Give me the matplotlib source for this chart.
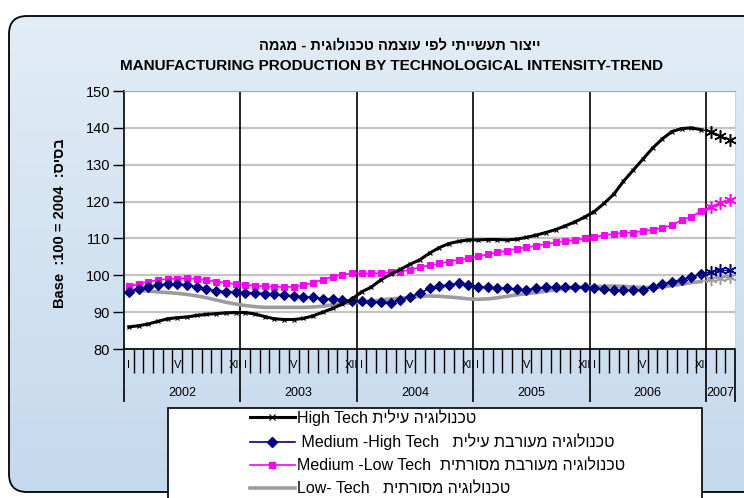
import numpy as np
import matplotlib
matplotlib.use("Agg")
import matplotlib.pyplot as plt
from matplotlib.patches import FancyBboxPatch, Rectangle
from matplotlib.lines import Line2D
import matplotlib.transforms as mtransforms

# monthly trend values, Jan 2002 .. Mar 2007
high_tech = [86.0, 86.3, 86.8, 87.5, 88.2, 88.5, 88.7, 89.1, 89.4, 89.6, 89.8, 89.9,
             89.9, 89.5, 88.8, 88.2, 88.0, 88.0, 88.3, 89.0, 90.0, 91.0, 92.2, 93.5,
             95.5, 96.8, 98.8, 100.3, 101.6, 103.0, 104.2, 106.0, 107.5, 108.6, 109.2, 109.6,
             109.6, 109.7, 109.7, 109.6, 109.8, 110.3, 110.9, 111.6, 112.4, 113.4, 114.5, 115.8,
             117.3, 119.5, 122.0, 125.5, 128.5, 131.5, 134.5, 137.0, 139.0, 139.8, 140.0, 139.5,
             139.0, 137.8, 136.7]
med_high = [95.6, 96.2, 96.9, 97.4, 97.6, 97.6, 97.4, 96.8, 96.2, 95.8, 95.6, 95.4,
            95.3, 95.2, 95.0, 94.8, 94.6, 94.4, 94.2, 94.0, 93.7, 93.5, 93.3, 93.1,
            92.9, 92.8, 92.8, 92.6, 93.3, 94.2, 95.1, 96.5, 97.1, 97.4, 97.8, 97.4,
            96.9, 96.7, 96.5, 96.5, 96.2, 96.0, 96.5, 96.7, 96.7, 96.9, 96.9, 96.9,
            96.5, 96.3, 96.0, 96.0, 96.0, 96.0, 96.9, 97.6, 98.3, 98.7, 99.6, 100.3,
            100.9, 101.3, 101.3]
med_low = [97.1, 97.6, 98.3, 98.7, 99.0, 99.1, 99.2, 99.0, 98.7, 98.3, 98.0, 97.6,
           97.4, 97.2, 97.0, 96.9, 96.8, 96.9, 97.3, 98.0, 98.8, 99.6, 100.2, 100.5,
           100.5, 100.5, 100.6, 100.8, 101.0, 101.5, 102.2, 102.7, 103.2, 103.7, 104.2, 104.6,
           105.1, 105.7, 106.2, 106.7, 107.2, 107.6, 108.0, 108.5, 108.9, 109.3, 109.6, 110.0,
           110.4, 110.9, 111.2, 111.5, 111.6, 112.0, 112.3, 112.9, 113.6, 115.0, 115.9, 117.4,
           118.6, 119.7, 120.4]
low_tech = [96.0, 95.9, 95.7, 95.5, 95.3, 95.1, 94.8, 94.4, 93.9, 93.3, 92.7, 92.2,
            91.8, 91.5, 91.3, 91.3, 91.3, 91.3, 91.3, 91.4, 91.6, 92.0, 92.3, 92.5,
            92.7, 93.0, 93.3, 93.6, 93.8, 94.0, 94.3, 94.4, 94.3, 94.1, 93.9, 93.6,
            93.5, 93.6, 93.9, 94.3, 94.7, 95.0, 95.3, 95.7, 96.0, 96.4, 96.6, 96.8,
            96.9, 97.0, 97.1, 97.0, 96.8, 96.7, 96.7, 96.8, 97.2, 97.6, 98.0, 98.3,
            98.9, 99.3, 99.5]
years = ["2002", "2003", "2004", "2005", "2006", "2007"]
months_in_year = [12, 12, 12, 12, 12, 3]
month_labels = {0: "I", 5: "V", 11: "XII"}

title_he = "ייצור תעשייתי לפי עוצמה טכנולוגית - מגמה"
title_en = "MANUFACTURING PRODUCTION BY TECHNOLOGICAL INTENSITY-TREND"
labels_en = ["High Tech ", " Medium -High Tech   ", "Medium -Low Tech  ", "Low- Tech   "]
labels_he = ["טכנולוגיה עילית", "טכנולוגיה מעורבת עילית",
             "טכנולוגיה מעורבת מסורתית", "טכנולוגיה מסורתית"]


def vis(s):
    # matplotlib has no bidi: reverse hebrew to visual order
    return s[::-1]


plt.rcParams['font.family'] = ['Liberation Sans', 'DejaVu Sans']

W, H = 744, 498
fig = plt.figure(figsize=(W / 100, H / 100), dpi=100)
fig.patch.set_facecolor('white')

# chart area background with rounded border
bg = fig.add_axes([0, 0, 1, 1])
bg.set_xlim(0, W)
bg.set_ylim(H, 0)
bg.axis('off')
grad = np.linspace(0, 1, 256).reshape(-1, 1)
top_c = np.array([0.89, 0.93, 0.965])
bot_c = np.array([0.77, 0.85, 0.93])
img = top_c + grad[..., None] * (bot_c - top_c)
img = np.repeat(img, 2, axis=1)
im = bg.imshow(img, extent=[0, W, H, 0], aspect='auto')
frame = FancyBboxPatch((9, 16), 790, 476, boxstyle="round,pad=0,rounding_size=18",
                       facecolor='none', edgecolor='black', lw=1.3)
bg.add_patch(frame)
im.set_clip_path(frame)

fig.text(400 / W, 1 - 45 / H, vis(title_he), ha='center', va='center',
         fontsize=10.5, fontweight='bold')
fig.text(392 / W, 1 - 66 / H, title_en, ha='center', va='center',
         fontsize=11, fontweight='bold')
fig.text(60 / W, 1 - 223 / H, "Base  :100 = 2004  :" + vis("בסיס"), rotation=90,
         ha='center', va='center', fontsize=10.5, fontweight='bold')

# plot area
ax = fig.add_axes([124 / W, 1 - 349 / H, 611 / W, 258 / H])
ax.set_facecolor('white')
x = np.arange(len(high_tech))
n_main = 60  # points up to Dec 2006

series = [
    (low_tech, '#9c9c9c', None, 0, 2.6),
    (med_low, '#ff00ff', 's', 4.2, 1.2),
    (med_high, '#000080', 'D', 5.5, 1.2),
    (high_tech, 'black', 'x', 3.5, 2.2),
]
for vals, col, mk, ms, lw in series:
    v = np.array(vals)
    ax.plot(x[:n_main], v[:n_main], color=col, lw=lw, marker=mk, ms=ms,
            mew=0.8, zorder=3)
    ax.plot(x[n_main - 1:], v[n_main - 1:], color=col, lw=1, zorder=3)
    ax.plot(x[n_main:], v[n_main:], ls='none', marker=(6, 2, 0), ms=9,
            mec=col, mew=1.1, zorder=4)

ax.set_xlim(-0.5, len(high_tech) - 0.5)
ax.set_ylim(80, 150)
ax.set_yticks(np.arange(80, 151, 10))
ax.yaxis.grid(True, color='#c4c4c4', lw=1.6)
ax.set_axisbelow(True)
ax.tick_params(axis='y', direction='out', length=8, width=1, pad=2, labelsize=10.5)

# year boundary lines
bounds = np.concatenate([[0], np.cumsum(months_in_year)]) - 0.5
for b in bounds[1:-1]:
    ax.axvline(b, color='black', lw=1.2, zorder=2)
ax.set_xticks(bounds)
ax.set_xticklabels([])
ax.set_xticks(np.arange(-0.5, len(high_tech), 1), minor=True)
ax.tick_params(axis='x', which='major', direction='out', length=38, width=1.2)
ax.tick_params(axis='x', which='minor', direction='out', length=17, width=1)

for s in ['left', 'bottom']:
    ax.spines[s].set_color('black')
    ax.spines[s].set_linewidth(1.2)
ax.spines['top'].set_color('#a8a8a8')
ax.spines['right'].set_color('#c8d4e0')

trans = mtransforms.blended_transform_factory(ax.transData, ax.transAxes)
for yi, (yr, nm) in enumerate(zip(years, months_in_year)):
    start = bounds[yi] + 0.5
    ax.text(start + nm / 2 - 0.5, -0.172, yr, transform=trans, ha='center',
            va='center', fontsize=9)
    if nm == 12:
        for m, lab in month_labels.items():
            ax.text(start + m, -0.062, lab, transform=trans, ha='center',
                    va='center', fontsize=8)

# legend box
bg.add_patch(Rectangle((168, 408), 534, 120, facecolor='white',
                       edgecolor='black', lw=1.2))
handles = [
    Line2D([], [], color='black', lw=2.2, marker='x', ms=4, mew=0.8),
    Line2D([], [], color='#000080', lw=1.2, marker='D', ms=5),
    Line2D([], [], color='#ff00ff', lw=1.2, marker='s', ms=4),
    Line2D([], [], color='#9c9c9c', lw=2.6),
]
labels = [en + vis(he) for en, he in zip(labels_en, labels_he)]
fig.legend(handles, labels, loc='upper left', bbox_to_anchor=(250 / W, 1 - 409 / H),
           frameon=False, borderpad=0, borderaxespad=0, handlelength=2.8,
           handletextpad=0.15, labelspacing=0.5, fontsize=11.5)

fig.savefig("out.png", dpi=100)
